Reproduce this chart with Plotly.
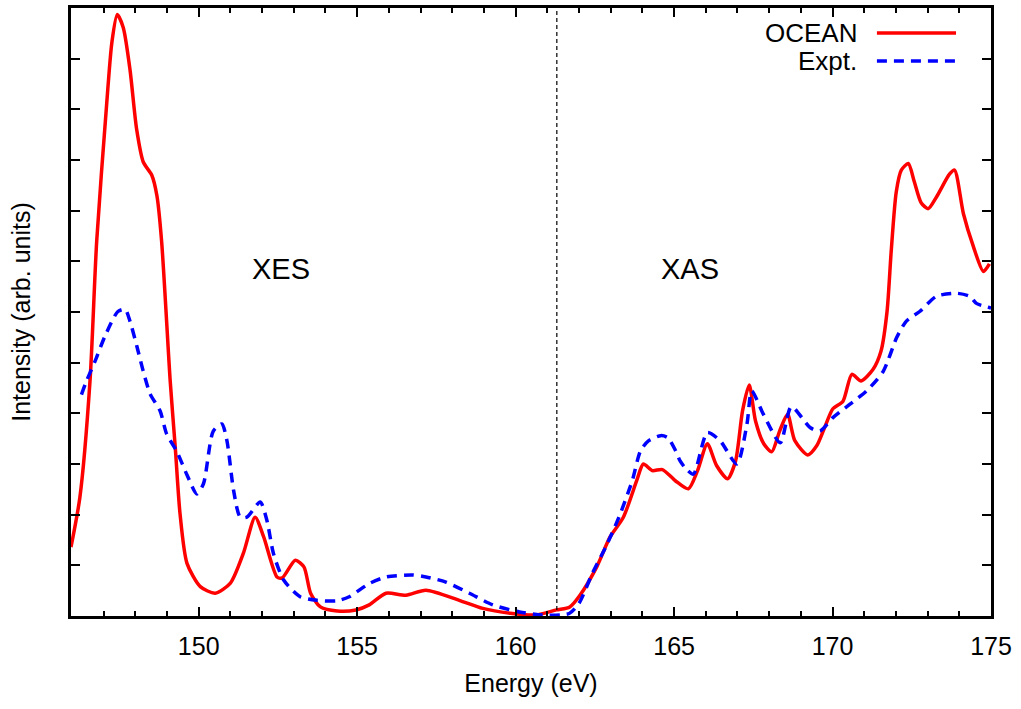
import plotly.graph_objects as go

# OCEAN (calculation)
ocean_e = [145.97, 146.25, 146.57, 146.78, 147.10, 147.26, 147.43, 147.62, 147.83, 148.04,
           148.25, 148.52, 148.68, 148.83, 149.10, 149.26, 149.41, 149.63, 150.05, 150.52,
           151.00, 151.41, 151.78, 152.05, 152.47, 152.63, 153.05, 153.32, 153.53, 153.84,
           154.37, 154.96, 155.38, 155.91, 156.54, 157.17, 158.22, 158.96, 159.90, 160.64,
           161.29, 161.71, 162.03, 162.56, 162.98, 163.40, 163.82, 164.03, 164.31, 164.63,
           165.04, 165.45, 165.74, 166.05, 166.34, 166.69, 166.94, 167.16, 167.37, 167.57,
           167.83, 168.08, 168.33, 168.58, 168.81, 169.22, 169.50, 169.75, 170.01, 170.33,
           170.61, 170.90, 171.28, 171.53, 171.72, 171.85, 172.01, 172.17, 172.39, 172.58,
           172.80, 173.02, 173.28, 173.69, 173.85, 174.13, 174.44, 174.76, 174.95]
ocean_i = [1.36, 2.34, 4.64, 7.39, 10.14, 11.32, 11.87, 11.61, 10.79, 9.61,
           8.96, 8.70, 8.30, 7.39, 4.64, 3.33, 2.02, 1.04, 0.58, 0.45,
           0.65, 1.24, 1.95, 1.56, 0.77, 0.75, 1.10, 0.97, 0.45, 0.18,
           0.10, 0.12, 0.22, 0.45, 0.41, 0.51, 0.31, 0.15, 0.05, 0.02,
           0.12, 0.18, 0.41, 0.97, 1.56, 1.95, 2.67, 3.00, 2.87, 2.89,
           2.67, 2.51, 2.87, 3.40, 2.97, 2.71, 3.06, 4.05, 4.56, 3.85,
           3.40, 3.24, 3.65, 3.98, 3.46, 3.18, 3.36, 3.72, 4.09, 4.24,
           4.77, 4.64, 4.87, 5.23, 6.01, 7.19, 8.37, 8.80, 8.93, 8.57,
           8.15, 8.04, 8.27, 8.72, 8.80, 7.94, 7.30, 6.80, 6.95]

# Experiment
expt_e = [146.30, 146.46, 146.73, 147.04, 147.45, 147.68, 147.83, 148.05, 148.25, 148.47,
          148.78, 148.99, 149.30, 149.62, 149.94, 150.15, 150.46, 150.73, 150.89, 151.10,
          151.31, 151.52, 151.94, 152.15, 152.36, 152.68, 153.20, 153.73, 154.37, 154.75,
          155.38, 155.91, 156.75, 157.17, 157.80, 158.54, 159.28, 160.12, 160.85, 161.69,
          162.00, 162.42, 162.84, 163.26, 163.68, 163.94, 164.20, 164.58, 164.80, 165.05,
          165.19, 165.37, 165.61, 166.05, 166.45, 166.98, 167.30, 167.45, 167.82, 168.35,
          168.70, 169.29, 169.60, 170.02, 170.55, 171.07, 171.60, 172.02, 172.33, 172.75,
          173.28, 173.91, 174.33, 174.54, 175.00]
expt_i = [4.37, 4.64, 5.03, 5.52, 6.01, 6.05, 5.82, 5.32, 4.83, 4.38,
          4.05, 3.59, 3.26, 2.80, 2.41, 2.61, 3.65, 3.79, 3.46, 2.48,
          1.95, 1.95, 2.25, 1.89, 1.23, 0.71, 0.38, 0.31, 0.30, 0.38,
          0.64, 0.77, 0.81, 0.77, 0.67, 0.45, 0.22, 0.08, 0.02, 0.05,
          0.25, 0.84, 1.36, 1.95, 2.67, 3.26, 3.46, 3.56, 3.52, 3.26,
          3.06, 2.91, 2.80, 3.62, 3.46, 3.00, 3.79, 4.44, 3.98, 3.42,
          4.13, 3.72, 3.65, 3.92, 4.18, 4.44, 4.83, 5.49, 5.82, 6.01,
          6.31, 6.37, 6.31, 6.17, 6.08]

edge_energy = 161.3
x_range = [145.97, 175.0]
y_range = [0, 12]
region_labels = ["XES", "XAS"]
region_x = [152.6, 165.5]
region_y = [6.84, 6.84]
series_names = ["OCEAN", "Expt."]

FONT = "Liberation Sans, Arial, Helvetica, sans-serif"
RED = "#ff0000"
BLUE = "#0000ff"
DASH = "10px,7px"
FS = 25

fig = go.Figure()
fig.add_trace(go.Scatter(x=ocean_e, y=ocean_i, mode="lines", name=series_names[0],
                         line=dict(color=RED, width=3.5, shape="spline", smoothing=0.7),
                         showlegend=False))
fig.add_trace(go.Scatter(x=expt_e, y=expt_i, mode="lines", name=series_names[1],
                         line=dict(color=BLUE, width=3.5, dash=DASH, shape="spline", smoothing=0.7),
                         showlegend=False))

# vertical edge marker
fig.add_shape(type="line", x0=edge_energy, x1=edge_energy, y0=0.12, y1=12,
              xref="x", yref="y", line=dict(color="black", width=1.2, dash="4px,3px"))

for t, xx, yy in zip(region_labels, region_x, region_y):
    fig.add_annotation(x=xx, y=yy, text=t, showarrow=False, xref="x", yref="y",
                       font=dict(size=29, color="black", family=FONT))

# manual legend (text left of sample line, as in the original)
leg_y = [0.959, 0.913]
leg_col = [RED, BLUE]
leg_dash = ["solid", DASH]
for name, yy, c, d in zip(series_names, leg_y, leg_col, leg_dash):
    fig.add_annotation(x=0.856, y=yy, xref="paper", yref="paper", text=name, showarrow=False,
                       xanchor="right", yanchor="middle", font=dict(size=FS + 1, color="black", family=FONT))
    fig.add_shape(type="line", x0=0.876, x1=0.962, y0=yy, y1=yy, xref="paper", yref="paper",
                  line=dict(color=c, width=3.5, dash=d))

fig.update_layout(
    width=1021, height=709,
    margin=dict(l=71, r=30, t=5, b=93),
    paper_bgcolor="white", plot_bgcolor="white",
    font=dict(family=FONT, size=FS, color="black"),
    showlegend=False,
)
fig.update_xaxes(range=x_range, tickmode="linear", tick0=150, dtick=5,
                 ticks="inside", ticklen=9, tickwidth=2, tickcolor="black",
                 minor=dict(ticks="inside", dtick=1, tick0=150, ticklen=5, tickwidth=2, tickcolor="black"),
                 showline=True, linewidth=2.5, linecolor="black", mirror="allticks",
                 showgrid=False, zeroline=False,
                 tickfont=dict(size=FS, family=FONT), ticklabelstandoff=6,
                 title=dict(text="Energy (eV)", font=dict(size=FS, family=FONT), standoff=16))
fig.update_yaxes(range=y_range, tickmode="linear", tick0=0, dtick=1,
                 ticks="inside", ticklen=9, tickwidth=2, tickcolor="black",
                 showticklabels=False,
                 showline=True, linewidth=2.5, linecolor="black", mirror="allticks",
                 showgrid=False, zeroline=False,
                 title=dict(text="Intensity (arb. units)", font=dict(size=FS, family=FONT), standoff=31))

fig.write_html("out.html", config={"displayModeBar": False},
               post_script="document.body.style.margin='0';")
